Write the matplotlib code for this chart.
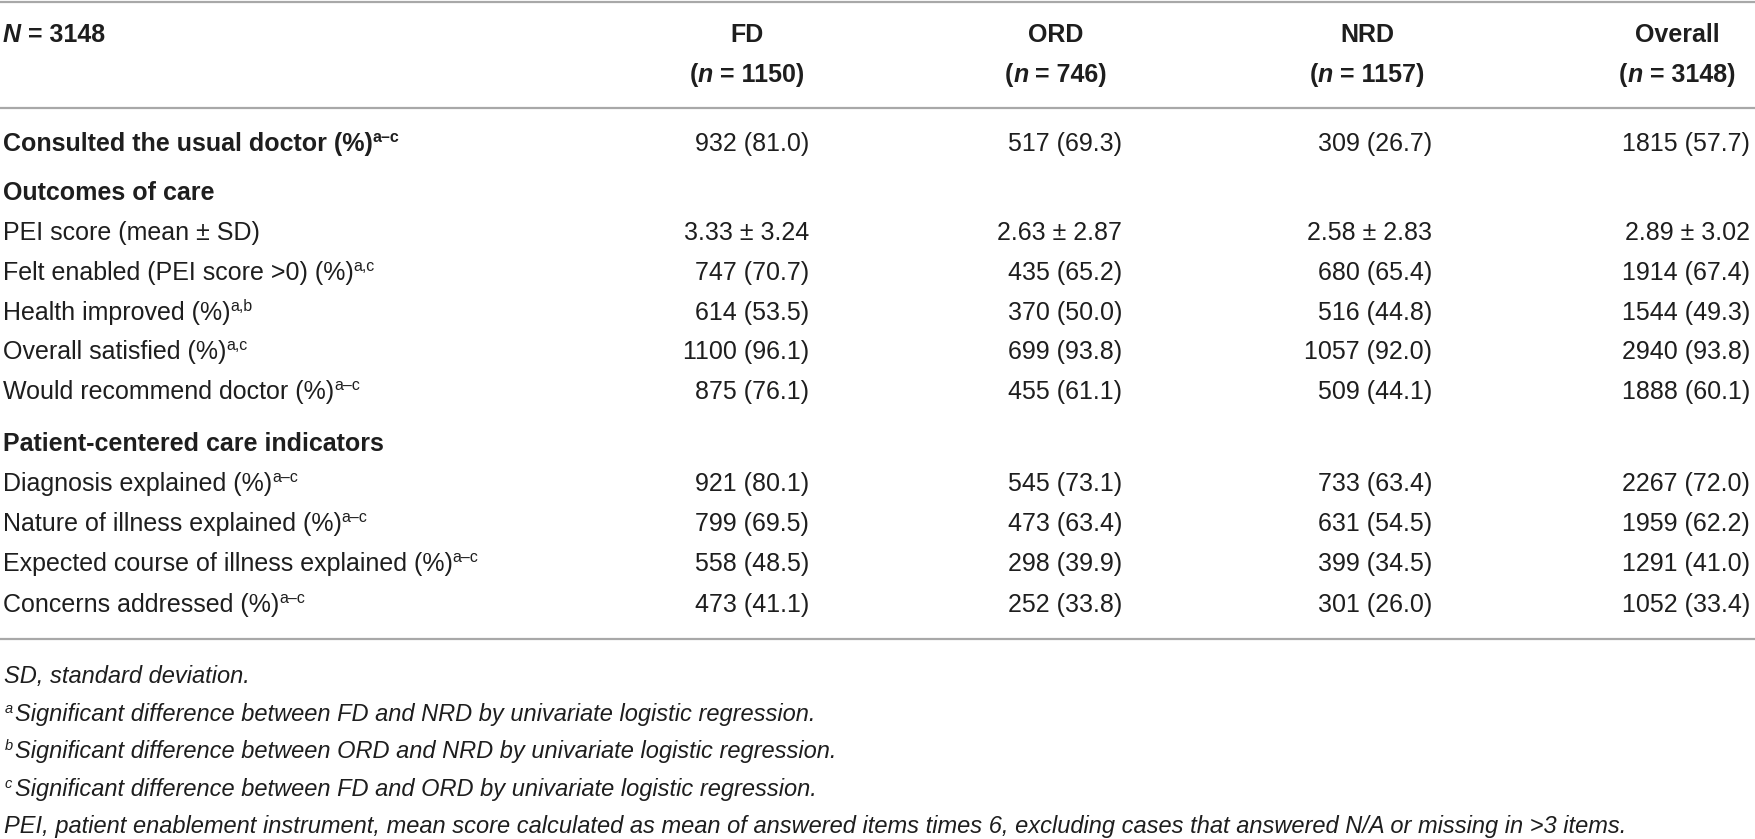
import matplotlib
matplotlib.use("Agg")
import matplotlib.pyplot as plt

# ---------------- data ----------------
N_total = 3148
groups = ["FD", "ORD", "NRD", "Overall"]
group_n = [1150, 746, 1157, 3148]

row_labels = [
    "Consulted the usual doctor (%)",
    "Outcomes of care",
    "PEI score (mean \u00b1 SD)",
    "Felt enabled (PEI score >0) (%)",
    "Health improved (%)",
    "Overall satisfied (%)",
    "Would recommend doctor (%)",
    "Patient-centered care indicators",
    "Diagnosis explained (%)",
    "Nature of illness explained (%)",
    "Expected course of illness explained (%)",
    "Concerns addressed (%)",
]
row_sups = ["a\u2013c", "", "", "a,c", "a,b", "a,c", "a\u2013c", "",
            "a\u2013c", "a\u2013c", "a\u2013c", "a\u2013c"]
row_bold = [True, True, False, False, False, False, False, True,
            False, False, False, False]

consulted_n = [932, 517, 309, 1815]
consulted_p = [81.0, 69.3, 26.7, 57.7]
pei_mean = [3.33, 2.63, 2.58, 2.89]
pei_sd = [3.24, 2.87, 2.83, 3.02]
felt_n = [747, 435, 680, 1914]
felt_p = [70.7, 65.2, 65.4, 67.4]
health_n = [614, 370, 516, 1544]
health_p = [53.5, 50.0, 44.8, 49.3]
satisfied_n = [1100, 699, 1057, 2940]
satisfied_p = [96.1, 93.8, 92.0, 93.8]
recommend_n = [875, 455, 509, 1888]
recommend_p = [76.1, 61.1, 44.1, 60.1]
diagnosis_n = [921, 545, 733, 2267]
diagnosis_p = [80.1, 73.1, 63.4, 72.0]
nature_n = [799, 473, 631, 1959]
nature_p = [69.5, 63.4, 54.5, 62.2]
expected_n = [558, 298, 399, 1291]
expected_p = [48.5, 39.9, 34.5, 41.0]
concerns_n = [473, 252, 301, 1052]
concerns_p = [41.1, 33.8, 26.0, 33.4]

footnotes = [
    ("", "SD, standard deviation."),
    ("a", "Significant difference between FD and NRD by univariate logistic regression."),
    ("b", "Significant difference between ORD and NRD by univariate logistic regression."),
    ("c", "Significant difference between FD and ORD by univariate logistic regression."),
    ("", "PEI, patient enablement instrument, mean score calculated as mean of answered "
         "items times 6, excluding cases that answered N/A or missing in >3 items."),
]

# ---------------- build cell strings ----------------
def np_cells(ns, ps):
    return [f"{n} ({p:.1f})" for n, p in zip(ns, ps)]

row_cells = [
    np_cells(consulted_n, consulted_p),
    None,
    [f"{m:.2f} \u00b1 {s:.2f}" for m, s in zip(pei_mean, pei_sd)],
    np_cells(felt_n, felt_p),
    np_cells(health_n, health_p),
    np_cells(satisfied_n, satisfied_p),
    np_cells(recommend_n, recommend_p),
    None,
    np_cells(diagnosis_n, diagnosis_p),
    np_cells(nature_n, nature_p),
    np_cells(expected_n, expected_p),
    np_cells(concerns_n, concerns_p),
]

# ---------------- layout ----------------
W, H = 1755, 839
FAM = ["Liberation Sans", "DejaVu Sans"]
TXT = "#1e1e1e"
BODY = 18
SUP = 11.5

fig = plt.figure(figsize=(W / 100, H / 100), dpi=100)
ax = fig.add_axes([0, 0, 1, 1])
ax.set_xlim(0, W)
ax.set_ylim(H, 0)
ax.axis("off")
renderer = fig.canvas.get_renderer()


def _width(s, **kw):
    t1 = ax.text(0, 0, "|" + s + "|", family=FAM, **kw)
    t2 = ax.text(0, 0, "||", family=FAM, **kw)
    w = t1.get_window_extent(renderer).width - t2.get_window_extent(renderer).width
    t1.remove()
    t2.remove()
    return w


def draw_runs(x, y, runs, ha="left"):
    widths = []
    for s, kw in runs:
        kw2 = {k: v for k, v in kw.items() if k != "dy"}
        widths.append(_width(s, **kw2))
    total = sum(widths)
    if ha == "center":
        x0 = x - total / 2
    elif ha == "right":
        x0 = x - total
    else:
        x0 = x
    for (s, kw), w in zip(runs, widths):
        dy = kw.get("dy", 0)
        kw2 = {k: v for k, v in kw.items() if k != "dy"}
        ax.text(x0, y - dy, s, family=FAM, color=TXT, ha="left",
                va="baseline", **kw2)
        x0 += w


# rules
line_kw = dict(color="#a8a8a8", lw=1.6)
ax.hlines([1.5, 108, 639], 0, W, **line_kw)

# header
col_center = [747, 1056, 1367, 1677]
col_right = [809, 1122, 1432, 1750]
hb = dict(size=BODY, weight="bold")
hbi = dict(size=BODY, weight="bold", style="italic")
draw_runs(3, 42, [("N", hbi), (f" = {N_total}", hb)])
for g, n, xc in zip(groups, group_n, col_center):
    draw_runs(xc, 42, [(g, hb)], ha="center")
    draw_runs(xc, 82, [("(", hb), ("n", hbi), (f" = {n})", hb)], ha="center")

# body rows
row_y = [151, 200, 240, 280, 320, 359, 399, 451, 491, 531, 571, 612]
for lab, sup, bold, cells, y in zip(row_labels, row_sups, row_bold, row_cells, row_y):
    wt = "bold" if bold else "normal"
    runs = [(lab, dict(size=BODY, weight=wt))]
    if sup:
        runs.append((sup, dict(size=SUP, weight=wt, dy=9)))
    draw_runs(3, y, runs)
    if cells:
        for c, xr in zip(cells, col_right):
            ax.text(xr, y, c, family=FAM, color=TXT, size=BODY,
                    ha="right", va="baseline")

# footnotes
fn_y = [683, 721, 758, 796, 833]
for (sup, txt), y in zip(footnotes, fn_y):
    if sup:
        ax.text(5, y - 8, sup, family=FAM, color=TXT, size=10.5,
                style="italic", ha="left", va="baseline")
        ax.text(15, y, txt, family=FAM, color=TXT, size=17,
                style="italic", ha="left", va="baseline")
    else:
        ax.text(4, y, txt, family=FAM, color=TXT, size=17,
                style="italic", ha="left", va="baseline")

fig.savefig("out.png", dpi=100, facecolor="white")
